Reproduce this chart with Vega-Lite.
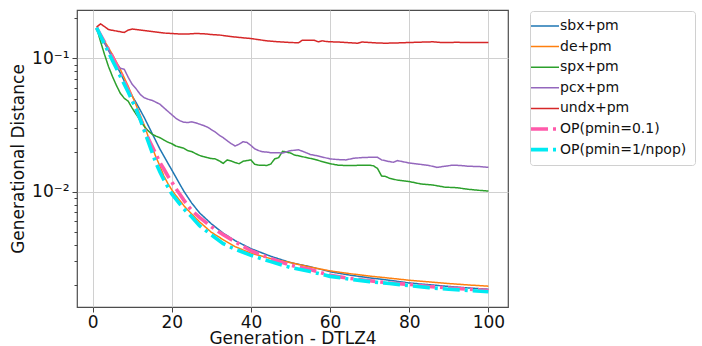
{
  "$schema": "https://vega.github.io/schema/vega-lite/v6.json",
  "autosize": {"type": "none"},
  "width": 431,
  "height": 297,
  "padding": {"left": 77, "top": 10, "right": 194, "bottom": 39},
  "background": "#ffffff",
  "config": {
    "font": "DejaVu Sans",
    "view": {"stroke": "#4d4d4d", "strokeWidth": 1.2},
    "axis": {"labelFont": "DejaVu Sans", "titleFont": "DejaVu Sans", "labelColor": "#111", "titleColor": "#111", "tickColor": "#444", "domain": false},
    "legend": {"labelFont": "DejaVu Sans"}
  },
  "datasets": {
    "gd": [
      {"s":"sbx+pm","g":1,"v":0.1697},{"s":"sbx+pm","g":3,"v":0.1306},{"s":"sbx+pm","g":5,"v":0.1009},{"s":"sbx+pm","g":7,"v":0.0779},{"s":"sbx+pm","g":9,"v":0.0586},{"s":"sbx+pm","g":11,"v":0.04648},{"s":"sbx+pm","g":13,"v":0.0362},{"s":"sbx+pm","g":15,"v":0.02748},{"s":"sbx+pm","g":17,"v":0.02086},{"s":"sbx+pm","g":19,"v":0.01639},{"s":"sbx+pm","g":21,"v":0.01288},{"s":"sbx+pm","g":23,"v":0.01012},{"s":"sbx+pm","g":25,"v":0.00823},{"s":"sbx+pm","g":27,"v":0.00693},{"s":"sbx+pm","g":30,"v":0.00573},{"s":"sbx+pm","g":33,"v":0.00487},{"s":"sbx+pm","g":36,"v":0.00428},{"s":"sbx+pm","g":40,"v":0.00373},{"s":"sbx+pm","g":45,"v":0.00327},{"s":"sbx+pm","g":50,"v":0.00293},{"s":"sbx+pm","g":55,"v":0.00273},{"s":"sbx+pm","g":60,"v":0.0025},{"s":"sbx+pm","g":65,"v":0.00236},{"s":"sbx+pm","g":70,"v":0.00225},{"s":"sbx+pm","g":75,"v":0.00216},{"s":"sbx+pm","g":80,"v":0.00206},{"s":"sbx+pm","g":85,"v":0.002},{"s":"sbx+pm","g":90,"v":0.00194},{"s":"sbx+pm","g":95,"v":0.00189},{"s":"sbx+pm","g":100,"v":0.00185},

      {"s":"de+pm","g":1,"v":0.1697},{"s":"de+pm","g":3,"v":0.1352},{"s":"de+pm","g":5,"v":0.1071},{"s":"de+pm","g":7,"v":0.0828},{"s":"de+pm","g":9,"v":0.0617},{"s":"de+pm","g":11,"v":0.04451},{"s":"de+pm","g":13,"v":0.03183},{"s":"de+pm","g":14,"v":0.0261},{"s":"de+pm","g":15,"v":0.0216},{"s":"de+pm","g":16,"v":0.01817},{"s":"de+pm","g":17,"v":0.01557},{"s":"de+pm","g":18,"v":0.0131},{"s":"de+pm","g":19,"v":0.01151},{"s":"de+pm","g":20,"v":0.0103},{"s":"de+pm","g":21,"v":0.00937},{"s":"de+pm","g":22,"v":0.0086},{"s":"de+pm","g":23,"v":0.00788},{"s":"de+pm","g":24,"v":0.0073},{"s":"de+pm","g":25,"v":0.00681},{"s":"de+pm","g":27,"v":0.00593},{"s":"de+pm","g":30,"v":0.00495},{"s":"de+pm","g":33,"v":0.00435},{"s":"de+pm","g":36,"v":0.00386},{"s":"de+pm","g":40,"v":0.00345},{"s":"de+pm","g":45,"v":0.00314},{"s":"de+pm","g":50,"v":0.00293},{"s":"de+pm","g":55,"v":0.00271},{"s":"de+pm","g":60,"v":0.00254},{"s":"de+pm","g":65,"v":0.00242},{"s":"de+pm","g":70,"v":0.00232},{"s":"de+pm","g":75,"v":0.00224},{"s":"de+pm","g":80,"v":0.00216},{"s":"de+pm","g":85,"v":0.0021},{"s":"de+pm","g":90,"v":0.00204},{"s":"de+pm","g":95,"v":0.00199},{"s":"de+pm","g":100,"v":0.00195},

      {"s":"spx+pm","g":1,"v":0.1697},{"s":"spx+pm","g":2,"v":0.134},{"s":"spx+pm","g":3,"v":0.1071},{"s":"spx+pm","g":4,"v":0.0871},{"s":"spx+pm","g":5,"v":0.0733},{"s":"spx+pm","g":6,"v":0.0628},{"s":"spx+pm","g":7,"v":0.0547},{"s":"spx+pm","g":8,"v":0.0502},{"s":"spx+pm","g":9,"v":0.0477},{"s":"spx+pm","g":10,"v":0.0423},{"s":"spx+pm","g":11,"v":0.0381},{"s":"spx+pm","g":12,"v":0.0344},{"s":"spx+pm","g":13,"v":0.031},{"s":"spx+pm","g":14,"v":0.0287},{"s":"spx+pm","g":15,"v":0.027},{"s":"spx+pm","g":16,"v":0.0261},{"s":"spx+pm","g":17,"v":0.0254},{"s":"spx+pm","g":18,"v":0.0244},{"s":"spx+pm","g":19,"v":0.0235},{"s":"spx+pm","g":20,"v":0.0229},{"s":"spx+pm","g":21,"v":0.022},{"s":"spx+pm","g":22,"v":0.0216},{"s":"spx+pm","g":23,"v":0.0212},{"s":"spx+pm","g":24,"v":0.0203},{"s":"spx+pm","g":25,"v":0.02},{"s":"spx+pm","g":26,"v":0.0193},{"s":"spx+pm","g":27,"v":0.0187},{"s":"spx+pm","g":28,"v":0.0183},{"s":"spx+pm","g":29,"v":0.018},{"s":"spx+pm","g":30,"v":0.0177},{"s":"spx+pm","g":31,"v":0.0176},{"s":"spx+pm","g":32,"v":0.017},{"s":"spx+pm","g":33,"v":0.0163},{"s":"spx+pm","g":34,"v":0.0173},{"s":"spx+pm","g":35,"v":0.017},{"s":"spx+pm","g":36,"v":0.0165},{"s":"spx+pm","g":37,"v":0.0162},{"s":"spx+pm","g":38,"v":0.0169},{"s":"spx+pm","g":39,"v":0.0171},{"s":"spx+pm","g":40,"v":0.0173},{"s":"spx+pm","g":41,"v":0.016},{"s":"spx+pm","g":42,"v":0.0158},{"s":"spx+pm","g":43,"v":0.0158},{"s":"spx+pm","g":44,"v":0.0157},{"s":"spx+pm","g":45,"v":0.0161},{"s":"spx+pm","g":46,"v":0.0176},{"s":"spx+pm","g":47,"v":0.018},{"s":"spx+pm","g":48,"v":0.0201},{"s":"spx+pm","g":49,"v":0.0198},{"s":"spx+pm","g":50,"v":0.0195},{"s":"spx+pm","g":51,"v":0.0188},{"s":"spx+pm","g":52,"v":0.0186},{"s":"spx+pm","g":54,"v":0.018},{"s":"spx+pm","g":56,"v":0.0175},{"s":"spx+pm","g":58,"v":0.0168},{"s":"spx+pm","g":60,"v":0.0162},{"s":"spx+pm","g":62,"v":0.0158},{"s":"spx+pm","g":64,"v":0.0157},{"s":"spx+pm","g":66,"v":0.0157},{"s":"spx+pm","g":68,"v":0.0158},{"s":"spx+pm","g":70,"v":0.0158},{"s":"spx+pm","g":71,"v":0.0156},{"s":"spx+pm","g":72,"v":0.0149},{"s":"spx+pm","g":73,"v":0.0131},{"s":"spx+pm","g":74,"v":0.013},{"s":"spx+pm","g":75,"v":0.0126},{"s":"spx+pm","g":77,"v":0.0122},{"s":"spx+pm","g":80,"v":0.0119},{"s":"spx+pm","g":83,"v":0.0114},{"s":"spx+pm","g":86,"v":0.0112},{"s":"spx+pm","g":89,"v":0.0108},{"s":"spx+pm","g":92,"v":0.0107},{"s":"spx+pm","g":95,"v":0.0104},{"s":"spx+pm","g":98,"v":0.0102},{"s":"spx+pm","g":100,"v":0.0101},

      {"s":"pcx+pm","g":1,"v":0.1697},{"s":"pcx+pm","g":3,"v":0.1318},{"s":"pcx+pm","g":5,"v":0.1035},{"s":"pcx+pm","g":6,"v":0.0918},{"s":"pcx+pm","g":7,"v":0.0842},{"s":"pcx+pm","g":8,"v":0.0828},{"s":"pcx+pm","g":9,"v":0.0721},{"s":"pcx+pm","g":10,"v":0.0639},{"s":"pcx+pm","g":11,"v":0.0591},{"s":"pcx+pm","g":12,"v":0.0538},{"s":"pcx+pm","g":13,"v":0.0507},{"s":"pcx+pm","g":14,"v":0.0494},{"s":"pcx+pm","g":15,"v":0.0485},{"s":"pcx+pm","g":16,"v":0.0469},{"s":"pcx+pm","g":17,"v":0.0453},{"s":"pcx+pm","g":18,"v":0.0426},{"s":"pcx+pm","g":19,"v":0.0401},{"s":"pcx+pm","g":20,"v":0.0378},{"s":"pcx+pm","g":21,"v":0.0356},{"s":"pcx+pm","g":22,"v":0.0341},{"s":"pcx+pm","g":23,"v":0.0332},{"s":"pcx+pm","g":24,"v":0.033},{"s":"pcx+pm","g":25,"v":0.0334},{"s":"pcx+pm","g":26,"v":0.0329},{"s":"pcx+pm","g":27,"v":0.0321},{"s":"pcx+pm","g":28,"v":0.0314},{"s":"pcx+pm","g":29,"v":0.0305},{"s":"pcx+pm","g":30,"v":0.0292},{"s":"pcx+pm","g":31,"v":0.028},{"s":"pcx+pm","g":32,"v":0.0265},{"s":"pcx+pm","g":33,"v":0.0254},{"s":"pcx+pm","g":34,"v":0.0241},{"s":"pcx+pm","g":35,"v":0.0229},{"s":"pcx+pm","g":36,"v":0.022},{"s":"pcx+pm","g":37,"v":0.0227},{"s":"pcx+pm","g":38,"v":0.0237},{"s":"pcx+pm","g":39,"v":0.0234},{"s":"pcx+pm","g":40,"v":0.0222},{"s":"pcx+pm","g":41,"v":0.0209},{"s":"pcx+pm","g":42,"v":0.0203},{"s":"pcx+pm","g":43,"v":0.0199},{"s":"pcx+pm","g":44,"v":0.0198},{"s":"pcx+pm","g":45,"v":0.0196},{"s":"pcx+pm","g":46,"v":0.0196},{"s":"pcx+pm","g":48,"v":0.0195},{"s":"pcx+pm","g":50,"v":0.0203},{"s":"pcx+pm","g":52,"v":0.0206},{"s":"pcx+pm","g":53,"v":0.0201},{"s":"pcx+pm","g":55,"v":0.019},{"s":"pcx+pm","g":57,"v":0.0185},{"s":"pcx+pm","g":60,"v":0.0176},{"s":"pcx+pm","g":62,"v":0.0174},{"s":"pcx+pm","g":64,"v":0.0173},{"s":"pcx+pm","g":66,"v":0.0178},{"s":"pcx+pm","g":68,"v":0.018},{"s":"pcx+pm","g":70,"v":0.0181},{"s":"pcx+pm","g":72,"v":0.0181},{"s":"pcx+pm","g":73,"v":0.0173},{"s":"pcx+pm","g":75,"v":0.0168},{"s":"pcx+pm","g":76,"v":0.0166},{"s":"pcx+pm","g":77,"v":0.0171},{"s":"pcx+pm","g":80,"v":0.0164},{"s":"pcx+pm","g":83,"v":0.016},{"s":"pcx+pm","g":85,"v":0.0157},{"s":"pcx+pm","g":87,"v":0.0152},{"s":"pcx+pm","g":89,"v":0.0155},{"s":"pcx+pm","g":91,"v":0.0158},{"s":"pcx+pm","g":93,"v":0.0157},{"s":"pcx+pm","g":95,"v":0.0155},{"s":"pcx+pm","g":98,"v":0.0154},{"s":"pcx+pm","g":100,"v":0.0152},

      {"s":"undx+pm","g":1,"v":0.172},{"s":"undx+pm","g":2,"v":0.1817},{"s":"undx+pm","g":3,"v":0.1735},{"s":"undx+pm","g":4,"v":0.1647},{"s":"undx+pm","g":6,"v":0.1606},{"s":"undx+pm","g":8,"v":0.1565},{"s":"undx+pm","g":9,"v":0.1634},{"s":"undx+pm","g":10,"v":0.1662},{"s":"undx+pm","g":12,"v":0.1634},{"s":"undx+pm","g":14,"v":0.1606},{"s":"undx+pm","g":16,"v":0.1578},{"s":"undx+pm","g":18,"v":0.1551},{"s":"undx+pm","g":20,"v":0.1538},{"s":"undx+pm","g":22,"v":0.1525},{"s":"undx+pm","g":24,"v":0.1525},{"s":"undx+pm","g":26,"v":0.1538},{"s":"undx+pm","g":28,"v":0.1533},{"s":"undx+pm","g":30,"v":0.1512},{"s":"undx+pm","g":32,"v":0.1499},{"s":"undx+pm","g":34,"v":0.1473},{"s":"undx+pm","g":36,"v":0.1448},{"s":"undx+pm","g":38,"v":0.1428},{"s":"undx+pm","g":40,"v":0.1411},{"s":"undx+pm","g":42,"v":0.1382},{"s":"undx+pm","g":44,"v":0.1356},{"s":"undx+pm","g":46,"v":0.134},{"s":"undx+pm","g":48,"v":0.1328},{"s":"undx+pm","g":50,"v":0.1317},{"s":"undx+pm","g":52,"v":0.131},{"s":"undx+pm","g":53,"v":0.137},{"s":"undx+pm","g":55,"v":0.1368},{"s":"undx+pm","g":56,"v":0.137},{"s":"undx+pm","g":57,"v":0.1333},{"s":"undx+pm","g":58,"v":0.1356},{"s":"undx+pm","g":59,"v":0.134},{"s":"undx+pm","g":60,"v":0.1333},{"s":"undx+pm","g":62,"v":0.1328},{"s":"undx+pm","g":64,"v":0.1317},{"s":"undx+pm","g":66,"v":0.1306},{"s":"undx+pm","g":67,"v":0.1301},{"s":"undx+pm","g":68,"v":0.1328},{"s":"undx+pm","g":70,"v":0.1317},{"s":"undx+pm","g":72,"v":0.1306},{"s":"undx+pm","g":74,"v":0.1301},{"s":"undx+pm","g":76,"v":0.1306},{"s":"undx+pm","g":78,"v":0.131},{"s":"undx+pm","g":80,"v":0.1317},{"s":"undx+pm","g":82,"v":0.1322},{"s":"undx+pm","g":84,"v":0.1328},{"s":"undx+pm","g":86,"v":0.1333},{"s":"undx+pm","g":88,"v":0.1317},{"s":"undx+pm","g":90,"v":0.1317},{"s":"undx+pm","g":92,"v":0.1322},{"s":"undx+pm","g":94,"v":0.1315},{"s":"undx+pm","g":96,"v":0.1317},{"s":"undx+pm","g":98,"v":0.1317},{"s":"undx+pm","g":100,"v":0.1317},

      {"s":"OP(pmin=0.1)","g":1,"v":0.1697},{"s":"OP(pmin=0.1)","g":3,"v":0.1328},{"s":"OP(pmin=0.1)","g":5,"v":0.1026},{"s":"OP(pmin=0.1)","g":7,"v":0.0779},{"s":"OP(pmin=0.1)","g":9,"v":0.0576},{"s":"OP(pmin=0.1)","g":11,"v":0.04155},{"s":"OP(pmin=0.1)","g":13,"v":0.02995},{"s":"OP(pmin=0.1)","g":14,"v":0.02521},{"s":"OP(pmin=0.1)","g":15,"v":0.02197},{"s":"OP(pmin=0.1)","g":16,"v":0.01914},{"s":"OP(pmin=0.1)","g":17,"v":0.01653},{"s":"OP(pmin=0.1)","g":18,"v":0.01478},{"s":"OP(pmin=0.1)","g":19,"v":0.0131},{"s":"OP(pmin=0.1)","g":20,"v":0.01182},{"s":"OP(pmin=0.1)","g":21,"v":0.01056},{"s":"OP(pmin=0.1)","g":22,"v":0.00961},{"s":"OP(pmin=0.1)","g":23,"v":0.00867},{"s":"OP(pmin=0.1)","g":24,"v":0.00788},{"s":"OP(pmin=0.1)","g":25,"v":0.00724},{"s":"OP(pmin=0.1)","g":27,"v":0.00641},{"s":"OP(pmin=0.1)","g":30,"v":0.00545},{"s":"OP(pmin=0.1)","g":33,"v":0.00474},{"s":"OP(pmin=0.1)","g":36,"v":0.0042},{"s":"OP(pmin=0.1)","g":40,"v":0.0036},{"s":"OP(pmin=0.1)","g":45,"v":0.00314},{"s":"OP(pmin=0.1)","g":50,"v":0.0028},{"s":"OP(pmin=0.1)","g":55,"v":0.0026},{"s":"OP(pmin=0.1)","g":60,"v":0.00235},{"s":"OP(pmin=0.1)","g":65,"v":0.00223},{"s":"OP(pmin=0.1)","g":70,"v":0.00214},{"s":"OP(pmin=0.1)","g":75,"v":0.00206},{"s":"OP(pmin=0.1)","g":80,"v":0.00201},{"s":"OP(pmin=0.1)","g":85,"v":0.00194},{"s":"OP(pmin=0.1)","g":90,"v":0.00189},{"s":"OP(pmin=0.1)","g":95,"v":0.00185},{"s":"OP(pmin=0.1)","g":100,"v":0.00181},

      {"s":"OP(pmin=1/npop)","g":1,"v":0.1697},{"s":"OP(pmin=1/npop)","g":3,"v":0.1279},{"s":"OP(pmin=1/npop)","g":5,"v":0.0966},{"s":"OP(pmin=1/npop)","g":7,"v":0.0733},{"s":"OP(pmin=1/npop)","g":9,"v":0.0557},{"s":"OP(pmin=1/npop)","g":11,"v":0.04155},{"s":"OP(pmin=1/npop)","g":12,"v":0.03498},{"s":"OP(pmin=1/npop)","g":13,"v":0.02893},{"s":"OP(pmin=1/npop)","g":14,"v":0.02394},{"s":"OP(pmin=1/npop)","g":15,"v":0.01981},{"s":"OP(pmin=1/npop)","g":16,"v":0.01639},{"s":"OP(pmin=1/npop)","g":17,"v":0.01404},{"s":"OP(pmin=1/npop)","g":18,"v":0.01223},{"s":"OP(pmin=1/npop)","g":19,"v":0.01084},{"s":"OP(pmin=1/npop)","g":20,"v":0.00961},{"s":"OP(pmin=1/npop)","g":21,"v":0.00882},{"s":"OP(pmin=1/npop)","g":22,"v":0.00809},{"s":"OP(pmin=1/npop)","g":23,"v":0.00743},{"s":"OP(pmin=1/npop)","g":24,"v":0.00693},{"s":"OP(pmin=1/npop)","g":25,"v":0.00647},{"s":"OP(pmin=1/npop)","g":27,"v":0.00554},{"s":"OP(pmin=1/npop)","g":30,"v":0.00474},{"s":"OP(pmin=1/npop)","g":33,"v":0.00406},{"s":"OP(pmin=1/npop)","g":36,"v":0.0037},{"s":"OP(pmin=1/npop)","g":40,"v":0.00332},{"s":"OP(pmin=1/npop)","g":45,"v":0.00298},{"s":"OP(pmin=1/npop)","g":50,"v":0.00269},{"s":"OP(pmin=1/npop)","g":55,"v":0.00251},{"s":"OP(pmin=1/npop)","g":60,"v":0.00231},{"s":"OP(pmin=1/npop)","g":65,"v":0.0022},{"s":"OP(pmin=1/npop)","g":70,"v":0.00211},{"s":"OP(pmin=1/npop)","g":75,"v":0.00204},{"s":"OP(pmin=1/npop)","g":80,"v":0.00197},{"s":"OP(pmin=1/npop)","g":85,"v":0.0019},{"s":"OP(pmin=1/npop)","g":90,"v":0.00185},{"s":"OP(pmin=1/npop)","g":95,"v":0.00181},{"s":"OP(pmin=1/npop)","g":100,"v":0.00177}
    ]
  },
  "data": {"name": "gd"},
  "layer": [
    {
      "encoding": {
        "x": {"field": "g", "type": "quantitative", "scale": {"domain": [-3.95, 104.95], "nice": false, "zero": false},
          "axis": {"values": [0, 20, 40, 60, 80, 100], "title": "Generation - DTLZ4", "titleFontSize": 17, "titleFontWeight": "normal", "labelFontSize": 17, "tickSize": 5, "labelPadding": 2, "titlePadding": 0, "grid": true, "gridColor": "#d0d0d0", "gridWidth": 1}},
        "y": {"field": "v", "type": "quantitative", "scale": {"type": "log", "domain": [0.00136, 0.231], "nice": false},
          "axis": {"values": [0.01, 0.1], "labelExpr": "datum.value > 0.05 ? '10⁻¹' : '10⁻²'", "title": "Generational Distance", "titleFontSize": 17, "titleFontWeight": "normal", "labelFontSize": 17, "tickSize": 5, "labelPadding": 3, "titlePadding": 4, "grid": true, "gridColor": "#d0d0d0", "gridWidth": 1}},
        "color": {"field": "s", "type": "nominal", "sort": null,
          "scale": {"domain": ["sbx+pm", "de+pm", "spx+pm", "pcx+pm", "undx+pm", "OP(pmin=0.1)", "OP(pmin=1/npop)"], "range": ["#1f77b4", "#ff7f0e", "#2ca02c", "#9467bd", "#d62728", "#ff5aaa", "#00eaf2"]},
          "legend": {"title": null, "orient": "none", "legendX": 453, "legendY": 1, "symbolType": "M-1.4,0H1.4", "symbolSize": 400, "labelFontSize": 14, "labelColor": "#111", "labelOffset": 8, "gridAlign": "all", "rowPadding": 4.6, "padding": 8, "strokeColor": "#d0d0d0", "fillColor": "#ffffff", "cornerRadius": 3,
            "encode": {"symbols": {"update": {"strokeWidth": {"signal": "test(/^OP/, datum.value) ? 3.6 : 1.5"}, "fill": {"value": "transparent"}}}}}},
        "strokeDash": {"field": "s", "type": "nominal", "sort": null,
          "scale": {"domain": ["sbx+pm", "de+pm", "spx+pm", "pcx+pm", "undx+pm", "OP(pmin=0.1)", "OP(pmin=1/npop)"], "range": [[1, 0], [1, 0], [1, 0], [1, 0], [1, 0], [17, 5, 3, 5], [17, 5, 3, 5]]}}
      },
      "layer": [
        {"transform": [{"filter": "indexof(['sbx+pm','de+pm','spx+pm','pcx+pm','undx+pm'], datum.s) >= 0"}], "mark": {"type": "line", "clip": true, "strokeWidth": 1.5}},
        {"transform": [{"filter": "datum.s === 'OP(pmin=0.1)'"}], "mark": {"type": "line", "clip": true, "strokeWidth": 3.6}},
        {"transform": [{"filter": "datum.s === 'OP(pmin=1/npop)'"}], "mark": {"type": "line", "clip": true, "strokeWidth": 3.6}}
      ]
    },
    {
      "transform": [{"filter": "datum.s === 'undx+pm'"}],
      "mark": {"type": "line", "strokeOpacity": 0},
      "encoding": {
        "x": {"field": "g", "type": "quantitative"},
        "y": {"field": "v", "type": "quantitative", "scale": {"type": "log", "domain": [0.00136, 0.231], "nice": false},
          "axis": {"orient": "left", "offset": 0, "values": [0.002, 0.003, 0.004, 0.005, 0.006, 0.007, 0.008, 0.009, 0.02, 0.03, 0.04, 0.05, 0.06, 0.07, 0.08, 0.09, 0.2], "labels": false, "grid": false, "title": null, "tickSize": 3}}
      }
    }
  ],
  "resolve": {"scale": {"y": "independent"}}
}
